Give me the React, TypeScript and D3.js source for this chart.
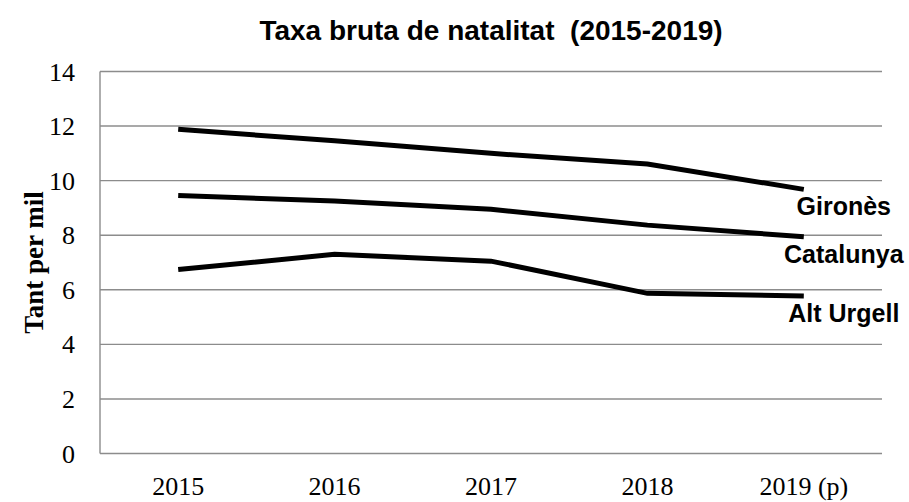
import React from "react";
import * as d3 from "d3";

const years = ["2015", "2016", "2017", "2018", "2019 (p)"];
const girones = [11.88, 11.46, 11.0, 10.61, 9.68];
const catalunya = [9.46, 9.25, 8.95, 8.37, 7.94];
const altUrgell = [6.74, 7.3, 7.05, 5.87, 5.77];
const seriesNames = ["Gironès", "Catalunya", "Alt Urgell"];
const yTicks = [0, 2, 4, 6, 8, 10, 12, 14];

const W = 909;
const H = 502;
const margin = { top: 71.5, right: 27, bottom: 48.5, left: 100 };

const App: React.FC = () => {
  const x = d3
    .scaleBand<string>()
    .domain(years)
    .range([margin.left, W - margin.right]);
  const y = d3
    .scaleLinear()
    .domain([0, 14])
    .range([H - margin.bottom, margin.top]);

  const cx = (i: number) => x(years[i])! + x.bandwidth() / 2;
  const line = d3
    .line<number>()
    .x((_, i) => cx(i))
    .y((d) => y(d));

  const series = [girones, catalunya, altUrgell];
  const last = years.length - 1;
  const gridColor = "#8c8c8c";

  return (
    <svg
      width={W}
      height={H}
      style={{ position: "absolute", left: 0, top: 0, background: "#fff" }}
    >
      <text
        x={(margin.left + W - margin.right) / 2}
        y={40}
        textAnchor="middle"
        fontFamily="'Liberation Sans', Arial, sans-serif"
        fontWeight="bold"
        fontSize={28}
        style={{ whiteSpace: "pre" }}
      >
        {"Taxa bruta de natalitat  (2015-2019)"}
      </text>

      {yTicks.map((t) => (
        <g key={t}>
          <line
            x1={margin.left}
            x2={W - margin.right}
            y1={y(t)}
            y2={y(t)}
            stroke={gridColor}
            strokeWidth={1.4}
          />
          <text
            x={75}
            y={y(t) + 9}
            textAnchor="end"
            fontFamily="'Liberation Serif', 'Times New Roman', serif"
            fontSize={26}
          >
            {t}
          </text>
        </g>
      ))}
      <line
        x1={margin.left}
        x2={margin.left}
        y1={y(0)}
        y2={y(14)}
        stroke={gridColor}
        strokeWidth={1.4}
      />

      {years.map((yr, i) => (
        <text
          key={yr}
          x={cx(i)}
          y={495}
          textAnchor="middle"
          fontFamily="'Liberation Serif', 'Times New Roman', serif"
          fontSize={26}
        >
          {yr}
        </text>
      ))}

      <text
        transform={`translate(43, ${(y(0) + y(14)) / 2}) rotate(-90)`}
        textAnchor="middle"
        fontFamily="'Liberation Serif', 'Times New Roman', serif"
        fontWeight="bold"
        fontSize={27}
      >
        Tant per mil
      </text>

      {series.map((s, k) => (
        <path
          key={seriesNames[k]}
          d={line(s) ?? ""}
          fill="none"
          stroke="#000"
          strokeWidth={5}
        />
      ))}

      {series.map((s, k) => (
        <text
          key={"l" + seriesNames[k]}
          x={cx(last) + 40}
          y={y(s[last]) + 26}
          textAnchor="middle"
          fontFamily="'Liberation Sans', Arial, sans-serif"
          fontWeight="bold"
          fontSize={25}
        >
          {seriesNames[k]}
        </text>
      ))}
    </svg>
  );
};

export default App;
